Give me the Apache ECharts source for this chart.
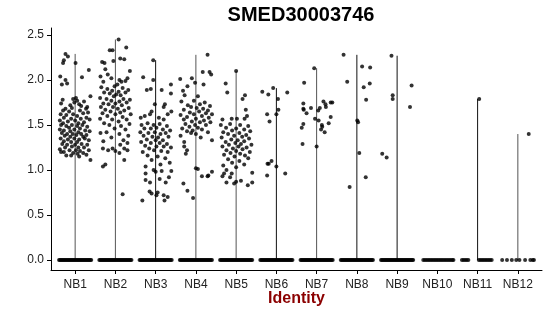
<!DOCTYPE html>
<html>
<head>
<meta charset="utf-8">
<script src="https://cdn.jsdelivr.net/npm/echarts@6/dist/echarts.min.js"></script>
<style>html,body{margin:0;padding:0;background:#fff}#c{width:550px;height:316px}</style>
</head>
<body>
<div id="c"></div>
<script>
// ---- data ----
const categories = ['NB1','NB2','NB3','NB4','NB5','NB6','NB7','NB8','NB9','NB10','NB11','NB12'];
const yTicks = [0, 0.5, 1.0, 1.5, 2.0, 2.5];

// non-zero cells per identity: [jitter (category units), expression]
const nb1 = [[-0.24,2.29],[-0.18,2.26],[-0.28,2.22],[0.01,2.19],[-0.30,2.19],[0.34,2.11],[-0.37,2.04],[-0.24,2.00],[-0.20,1.96],[-0.33,1.95],[0.17,2.03],
[-0.31,1.78],[-0.05,1.79],[0.05,1.77],[0.22,1.76],[-0.12,1.72],[0.38,1.82],[0.30,1.70],[-0.24,1.68],[0.10,1.73],[-0.02,1.75],[0.15,1.71],[-0.35,1.74],[0.27,1.68],[-0.08,1.69],[0.02,1.80],
[-0.30,1.66],[0.12,1.66],[0.32,1.64],[-0.15,1.65],[-0.36,1.62],[-0.05,1.62],[0.20,1.63],[0.05,1.60],[-0.22,1.61],
[-0.28,1.58],[0.28,1.58],[-0.10,1.57],[0.14,1.57],[0.36,1.56],[-0.38,1.55],[-0.18,1.54],[0.00,1.55],[0.22,1.53],[-0.30,1.52],[0.08,1.52],
[-0.35,1.50],[-0.22,1.49],[-0.08,1.50],[0.05,1.49],[0.18,1.50],[0.30,1.48],[-0.15,1.47],[0.12,1.46],
[-0.38,1.45],[-0.28,1.44],[-0.02,1.45],[0.25,1.44],[0.36,1.43],[-0.12,1.43],[0.08,1.42],
[-0.33,1.41],[-0.20,1.40],[-0.06,1.40],[0.03,1.39],[0.15,1.40],[0.28,1.39],[-0.26,1.38],[0.20,1.37],[-0.12,1.37],
[-0.36,1.35],[-0.18,1.34],[-0.02,1.35],[0.10,1.34],[0.24,1.35],[0.34,1.33],[-0.28,1.32],[0.05,1.31],[-0.10,1.31],
[-0.32,1.29],[-0.20,1.28],[0.00,1.28],[0.16,1.29],[0.30,1.28],[-0.08,1.26],[0.22,1.25],[-0.25,1.25],[0.08,1.25],
[-0.38,1.23],[-0.14,1.22],[0.02,1.22],[0.12,1.21],[0.34,1.22],[-0.28,1.20],[-0.05,1.19],[0.20,1.19],[0.06,1.18],
[-0.22,1.16],[-0.10,1.16],[0.10,1.15],[0.38,1.11],[-0.35,1.20],[0.28,1.17]];
const nb2 = [[0.08,2.45],[-0.14,2.33],[-0.07,2.33],[0.27,2.36],[-0.33,2.20],[-0.27,2.19],[0.12,2.24],[0.22,2.23],[-0.05,2.21],[0.36,2.10],[-0.25,2.12],[-0.19,2.06],[-0.37,2.04],[-0.10,2.02],[0.10,2.00],[0.15,1.98],[0.25,1.99],[0.30,2.02],[-0.30,1.98],[0.05,1.95],[-0.02,1.93],
[-0.35,1.92],[-0.20,1.90],[0.18,1.91],[0.32,1.89],[-0.08,1.88],[0.08,1.87],[0.25,1.86],[-0.28,1.86],[-0.14,1.85],[0.02,1.84],[0.13,1.83],[-0.04,1.82],
[-0.38,1.80],[-0.22,1.79],[0.20,1.79],[0.36,1.78],[-0.10,1.77],[0.10,1.76],[0.28,1.75],[-0.30,1.74],[0.00,1.74],[-0.17,1.73],[0.16,1.72],
[-0.36,1.70],[-0.06,1.70],[0.33,1.69],[0.06,1.68],[-0.25,1.67],[0.22,1.66],[-0.12,1.65],[0.12,1.64],[-0.32,1.63],[0.38,1.62],[0.00,1.62],
[-0.20,1.60],[0.18,1.59],[-0.38,1.57],[0.28,1.56],[-0.08,1.56],[0.08,1.54],[-0.28,1.52],[0.35,1.51],[-0.15,1.50],[0.14,1.49],
[-0.02,1.46],[0.25,1.45],[-0.37,1.41],[-0.22,1.42],[0.10,1.40],[0.32,1.38],[-0.10,1.36],[0.20,1.33],[-0.30,1.32],[0.30,1.30],[0.12,1.28],
[-0.31,1.24],[-0.07,1.24],[0.22,1.24],[0.30,1.22],[0.00,1.21],[0.10,1.19],[-0.18,1.22],[0.22,1.11],[-0.25,1.06],[-0.31,1.04],[0.18,0.73]];
const nb3 = [[-0.06,2.22],[-0.31,2.03],[-0.06,2.00],[-0.22,1.89],[-0.12,1.90],[0.15,1.89],[0.38,1.95],[0.38,1.85],[0.20,1.70],[0.23,1.73],[-0.02,1.73],[-0.10,1.65],[-0.14,1.62],[-0.37,1.58],[-0.27,1.60],[0.08,1.58],[0.20,1.56],[0.39,1.65],[0.30,1.62],
[-0.35,1.50],[-0.20,1.52],[-0.05,1.50],[0.10,1.51],[0.28,1.49],[-0.28,1.46],[-0.12,1.46],[0.02,1.47],[0.18,1.45],[0.36,1.44],[-0.38,1.42],[-0.18,1.41],[-0.02,1.42],[0.12,1.40],[0.25,1.41],[-0.30,1.38],[-0.08,1.37],[0.06,1.36],[0.32,1.37],[-0.22,1.34],[0.00,1.33],[0.18,1.33],[-0.36,1.31],[-0.12,1.30],[0.10,1.30],[0.28,1.29],[-0.26,1.27],[0.02,1.26],[0.20,1.26],[0.38,1.25],[-0.16,1.24],[-0.04,1.22],[0.14,1.21],[0.30,1.20],[-0.32,1.20],
[-0.20,1.16],[0.05,1.15],[0.24,1.13],[-0.10,1.11],[0.35,1.08],[-0.25,1.04],[0.12,1.06],[-0.05,1.00],[0.15,0.99],[-0.25,0.96],[0.39,0.99],[0.00,0.98],[-0.25,0.89],[0.33,0.92],[-0.14,0.86],[0.25,0.86],[0.10,0.90],[-0.15,0.76],[-0.10,0.74],[0.02,0.72],[0.05,0.75],[0.20,0.72],[0.30,0.70],[-0.33,0.66],[0.22,0.66]];
const nb4 = [[0.29,2.28],[0.17,2.09],[0.34,2.09],[0.38,2.06],[-0.39,2.01],[-0.10,2.02],[-0.02,1.97],[-0.21,1.93],[-0.32,1.88],[0.19,1.95],[-0.28,1.83],[0.05,1.82],
[-0.36,1.76],[-0.05,1.77],[0.22,1.75],[0.10,1.73],[-0.20,1.72],[0.35,1.71],[-0.12,1.70],[0.02,1.69],[0.18,1.68],[0.30,1.66],[-0.30,1.67],[0.08,1.65],[-0.15,1.64],[0.25,1.63],[0.40,1.62],[-0.05,1.62],[-0.38,1.61],[0.15,1.60],[-0.22,1.59],[0.32,1.58],[0.00,1.57],[-0.30,1.56],[0.20,1.55],[-0.10,1.54],[0.10,1.53],[0.36,1.53],[-0.26,1.51],[-0.02,1.50],[0.25,1.50],[-0.16,1.48],[0.05,1.47],[-0.34,1.46],[0.15,1.45],[-0.08,1.44],[-0.22,1.43],[0.30,1.42],[-0.12,1.41],[0.00,1.40],
[-0.38,1.38],[0.12,1.36],[-0.29,1.31],[0.40,1.33],[-0.29,1.26],[-0.22,1.22],[-0.25,1.18],[0.00,1.02],[0.05,1.01],[0.15,0.93],[0.29,0.93],[0.40,0.98],[0.31,0.94],[-0.31,0.85],[-0.21,0.77],[-0.07,0.69]];
const nb5 = [[0.00,2.10],[-0.26,1.96],[-0.22,1.86],[0.22,1.83],[0.16,1.79],[0.24,1.67],[0.27,1.60],[-0.34,1.56],[-0.11,1.57],[0.02,1.57],[0.21,1.57],
[-0.38,1.50],[-0.15,1.51],[0.10,1.50],[0.30,1.49],[-0.25,1.47],[0.00,1.46],[0.20,1.45],[-0.10,1.44],[0.35,1.43],[-0.32,1.42],[0.08,1.41],[-0.20,1.40],[0.25,1.39],[-0.05,1.38],[0.15,1.37],[-0.36,1.36],[0.32,1.35],[-0.12,1.34],[0.04,1.33],[0.20,1.32],[-0.26,1.31],[-0.02,1.30],[0.12,1.29],[0.38,1.28],[-0.18,1.28],[-0.34,1.26],[0.06,1.26],[0.26,1.25],[-0.08,1.24],[0.16,1.23],[-0.24,1.22],[0.00,1.21],[0.34,1.20],[-0.14,1.19],[0.10,1.18],[-0.30,1.17],[0.22,1.16],[-0.04,1.15],[0.30,1.13],[-0.20,1.12],[0.08,1.10],[-0.10,1.08],[0.20,1.06],[-0.32,1.05],[0.00,1.03],
[-0.24,1.00],[-0.30,0.96],[-0.34,0.93],[-0.11,0.96],[-0.15,0.92],[0.00,0.87],[-0.05,0.85],[0.29,0.83],[0.40,0.86],[-0.24,0.86],[0.40,0.97],[0.12,0.88]];
const nb6 = [[-0.08,1.91],[-0.35,1.87],[-0.20,1.84],[0.27,1.86],[0.04,1.79],[0.05,1.67],[0.00,1.62],[-0.23,1.62],[-0.17,1.54],[-0.12,1.10],[-0.19,1.07],[-0.22,1.07],[0.00,1.04],[-0.23,0.94],[0.22,0.96]];
const nb7 = [[-0.06,2.13],[-0.31,1.97],[-0.33,1.74],[-0.33,1.68],[-0.32,1.67],[-0.14,1.69],[0.17,1.76],[0.22,1.73],[0.23,1.70],[0.35,1.75],[0.39,1.75],[0.08,1.69],[0.04,1.66],[-0.25,1.63],[-0.04,1.57],[0.05,1.55],[0.35,1.59],[0.30,1.52],[0.13,1.50],[0.14,1.48],[0.11,1.45],[0.20,1.42],[-0.33,1.51],[-0.37,1.47],[-0.35,1.29],[0.00,1.26]];
const nb8 = [[-0.33,2.28],[-0.24,1.98],[0.13,2.15],[0.33,2.14],[0.32,1.96],[0.17,1.92],[0.23,1.78],[0.01,1.55],[0.03,1.53],[0.06,1.19],[0.22,0.92],[-0.18,0.81]];
const nb9 = [[-0.14,2.27],[-0.11,1.83],[-0.11,1.79],[0.36,1.94],[0.32,1.70],[-0.37,1.18],[-0.26,1.14]];
const nb10 = [];
const nb11 = [[0.04,1.79]];
const nb12 = [[0.27,1.40]];
const nonZero = [nb1,nb2,nb3,nb4,nb5,nb6,nb7,nb8,nb9,nb10,nb11,nb12];

// zero-expression cells: jitter positions (category units)
const zeroBand = [-0.40,-0.375,-0.35,-0.325,-0.30,-0.275,-0.25,-0.225,-0.20,-0.175,-0.15,-0.125,-0.10,-0.075,-0.05,-0.025,0,0.025,0.05,0.075,0.10,0.125,0.15,0.175,0.20,0.225,0.25,0.275,0.30,0.325,0.35,0.375,0.40];
const zero10 = [-0.35,-0.31,-0.27,-0.23,-0.19,-0.15,-0.11,-0.07,-0.03,0.01,0.05,0.09,0.13,0.17,0.21,0.25,0.29,0.33,0.37,0.40];
const zero11 = [-0.39,-0.35,-0.31,-0.27,-0.23,0.03,0.07,0.11,0.15,0.19,0.23,0.27,0.31,0.35];
const zero12 = [-0.39,-0.27,-0.15,-0.04,0.04,0.18,0.31,0.37,0.40];
const zeroJitter = [zeroBand,zeroBand,zeroBand,zeroBand,zeroBand,zeroBand,zeroBand,zeroBand,zeroBand,zero10,zero11,zero12];

// ---- styles ----
const violinColors = ['#555555','#555555','#111111','#555555','#555555','#111111','#555555','#111111','#111111','#111111','#111111','#555555'];
const FONT = '"Liberation Sans", Arial, Helvetica, sans-serif';

// ---- build ----
const points = [];
const violins = [];
categories.forEach((c, i) => {
  const pos = i + 1;
  zeroJitter[i].forEach(j => points.push([pos + j, 0]));
  nonZero[i].forEach(p => points.push([pos + p[0], p[1]]));
  const vals = nonZero[i].map(p => p[1]);
  if (vals.length) violins.push([pos, Math.max(...vals), i]);
});

const chart = echarts.init(document.getElementById('c'), null, {renderer: 'canvas'});
chart.setOption({
  animation: false,
  backgroundColor: '#ffffff',
  title: {
    text: 'SMED30003746',
    left: 296, top: 0, textAlign: 'center',
    textStyle: {fontFamily: FONT, fontSize: 20, fontWeight: 'bold', color: '#000'}
  },
  grid: {left: 51, right: 8, top: 28, bottom: 46, containLabel: false, outerBoundsMode: 'none'},
  xAxis: {
    type: 'value', min: 0.4, max: 12.6,
    name: 'Identity', nameLocation: 'middle', nameGap: 21, nameMoveOverlap: false,
    nameTextStyle: {fontFamily: FONT, fontSize: 16, fontWeight: 'bold', color: '#8B0000'},
    splitLine: {show: false},
    axisLine: {show: true, onZero: false, lineStyle: {color: '#000', width: 1}},
    axisTick: {show: true, length: 4, lineStyle: {color: '#000'}, customValues: categories.map((c, i) => i + 1)},
    axisLabel: {show: true, margin: 9, color: '#222', fontFamily: FONT, fontSize: 12,
      customValues: categories.map((c, i) => i + 1),
      formatter: v => categories[Math.round(v) - 1] || ''}
  },
  yAxis: {
    type: 'value', min: -0.111, max: 2.578,
    splitLine: {show: false},
    axisLine: {show: true, onZero: false, lineStyle: {color: '#000', width: 1}},
    axisTick: {show: true, length: 4, lineStyle: {color: '#000'}, customValues: yTicks},
    axisLabel: {show: true, margin: 7, color: '#222', fontFamily: FONT, fontSize: 12,
      customValues: yTicks, formatter: v => v.toFixed(1)}
  },
  series: [
    {
      type: 'custom',
      data: violins,
      z: 1,
      renderItem: (params, api) => {
        const x = api.value(0), top = api.value(1), idx = api.value(2);
        const p0 = api.coord([x, 0]);
        const p1 = api.coord([x, top]);
        return {
          type: 'line',
          shape: {x1: p0[0], y1: p0[1], x2: p1[0], y2: p1[1]},
          style: {stroke: violinColors[idx], lineWidth: 1}
        };
      }
    },
    {
      type: 'scatter',
      data: points,
      z: 2,
      symbol: 'circle',
      symbolSize: 4,
      itemStyle: {color: '#000'},
      silent: true
    }
  ]
});
</script>
</body>
</html>
